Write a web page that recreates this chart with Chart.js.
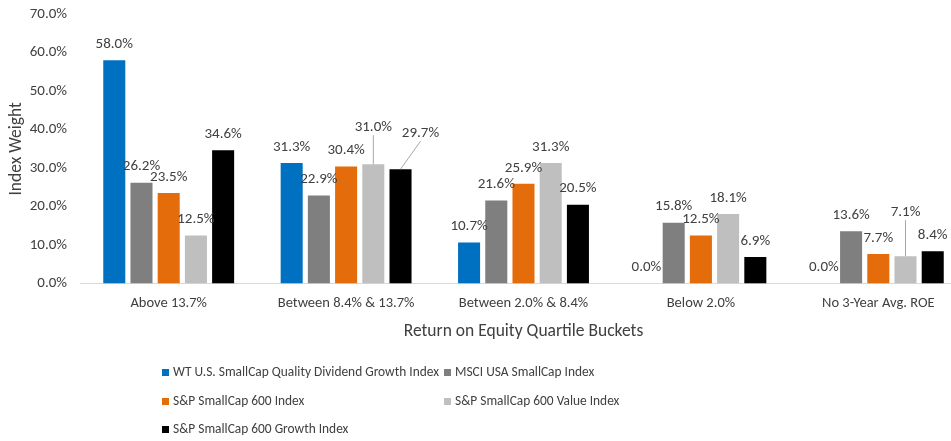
<!DOCTYPE html>
<html>
<head>
<meta charset="utf-8">
<script src="https://cdn.jsdelivr.net/npm/chart.js@4/dist/chart.umd.min.js"></script>
<style>
  html, body { margin: 0; padding: 0; background: #fff; overflow: hidden; }
</style>
</head>
<body>
<canvas id="chart" width="975" height="441"></canvas>
<script>
// categories and series values (percent)
const categories = ['Above 13.7%', 'Between 8.4% & 13.7%', 'Between 2.0% & 8.4%', 'Below 2.0%', 'No 3-Year Avg. ROE'];
const seriesNames = [
  'WT U.S. SmallCap Quality Dividend Growth Index',
  'MSCI USA SmallCap Index',
  'S&P SmallCap 600 Index',
  'S&P SmallCap 600 Value Index',
  'S&P SmallCap 600 Growth Index'
];
const wtQualityDivGrowth = [58.0, 31.3, 10.7, 0.0, 0.0];
const msciUsaSmallCap = [26.2, 22.9, 21.6, 15.8, 13.6];
const sp600 = [23.5, 30.4, 25.9, 12.5, 7.7];
const sp600Value = [12.5, 31.0, 31.3, 18.1, 7.1];
const sp600Growth = [34.6, 29.7, 20.5, 6.9, 8.4];
const yTicks = [0, 10, 20, 30, 40, 50, 60, 70];

const seriesColors = ['#0070C0', '#7F7F7F', '#E46C0A', '#BFBFBF', '#000000'];
const FONT = "'Carlito', 'Liberation Sans', Arial, sans-serif";

// labels that Excel moved away from the bar, with a leader line
const callouts = [
  { ds: 3, idx: 1, dx: 0, dy: -21 },
  { ds: 4, idx: 1, dx: 20, dy: -20 },
  { ds: 3, idx: 4, dx: 0, dy: -28 }
];

// legend item spots (two columns, three rows)
const legendSpots = [
  { x: 162, y: 373 }, { x: 444, y: 373 },
  { x: 162, y: 402 }, { x: 444, y: 402 },
  { x: 162, y: 430 }
];

const barLabels = {
  id: 'barLabels',
  afterDatasetsDraw(chart) {
    const ctx = chart.ctx;
    ctx.save();
    ctx.font = '15px ' + FONT;
    ctx.fillStyle = '#404040';
    ctx.textAlign = 'center';
    ctx.textBaseline = 'middle';
    chart.data.datasets.forEach((ds, i) => {
      chart.getDatasetMeta(i).data.forEach((bar, j) => {
        const c = callouts.find(o => o.ds === i && o.idx === j);
        const dx = c ? c.dx : 0;
        const dy = c ? c.dy : 0;
        const x = bar.x + dx;
        const y = bar.y - 16 + dy;
        if (c) {
          ctx.strokeStyle = '#A6A6A6';
          ctx.lineWidth = 1;
          ctx.beginPath();
          ctx.moveTo(bar.x, bar.y);
          ctx.lineTo(x, y + 8);
          ctx.stroke();
        }
        ctx.fillText(ds.data[j].toFixed(1) + '%', x, y);
      });
    });
    ctx.restore();
  }
};

const bottomLegend = {
  id: 'bottomLegend',
  afterDraw(chart) {
    const ctx = chart.ctx;
    ctx.save();
    ctx.font = '13.4px ' + FONT;
    ctx.textBaseline = 'middle';
    ctx.textAlign = 'left';
    chart.data.datasets.forEach((ds, i) => {
      const p = legendSpots[i];
      ctx.fillStyle = ds.backgroundColor;
      ctx.fillRect(p.x, p.y - 4, 7, 7);
      ctx.fillStyle = '#404040';
      ctx.fillText(ds.label, p.x + 11, p.y);
    });
    ctx.restore();
  }
};

const allSeries = [wtQualityDivGrowth, msciUsaSmallCap, sp600, sp600Value, sp600Growth];

new Chart(document.getElementById('chart'), {
  type: 'bar',
  data: {
    labels: categories,
    datasets: allSeries.map((vals, i) => ({
      label: seriesNames[i],
      data: vals,
      backgroundColor: seriesColors[i],
      categoryPercentage: 0.767,
      barPercentage: 0.81
    }))
  },
  options: {
    responsive: false,
    animation: false,
    layout: { padding: { left: 6, right: 8, top: 2, bottom: 99 } },
    plugins: {
      legend: { display: false },
      tooltip: { enabled: false }
    },
    scales: {
      x: {
        grid: { display: false },
        border: { color: '#D9D9D9', width: 1 },
        ticks: { color: '#404040', font: { family: FONT, size: 14.5 }, padding: 3 },
        title: {
          display: true,
          text: 'Return on Equity Quartile Buckets',
          color: '#404040',
          font: { family: FONT, size: 17.5 },
          padding: { top: 6, bottom: 0 }
        }
      },
      y: {
        min: 0,
        max: 70,
        afterBuildTicks: s => { s.ticks = yTicks.map(v => ({ value: v })); },
        afterFit: s => { s.width = 74; },
        grid: { display: false },
        border: { display: false },
        ticks: {
          color: '#404040',
          font: { family: FONT, size: 15 },
          padding: 5,
          callback: v => v.toFixed(1) + '%'
        },
        title: {
          display: true,
          text: 'Index Weight',
          color: '#404040',
          font: { family: FONT, size: 17.5 },
          padding: 0
        }
      }
    }
  },
  plugins: [barLabels, bottomLegend]
});
</script>
</body>
</html>
